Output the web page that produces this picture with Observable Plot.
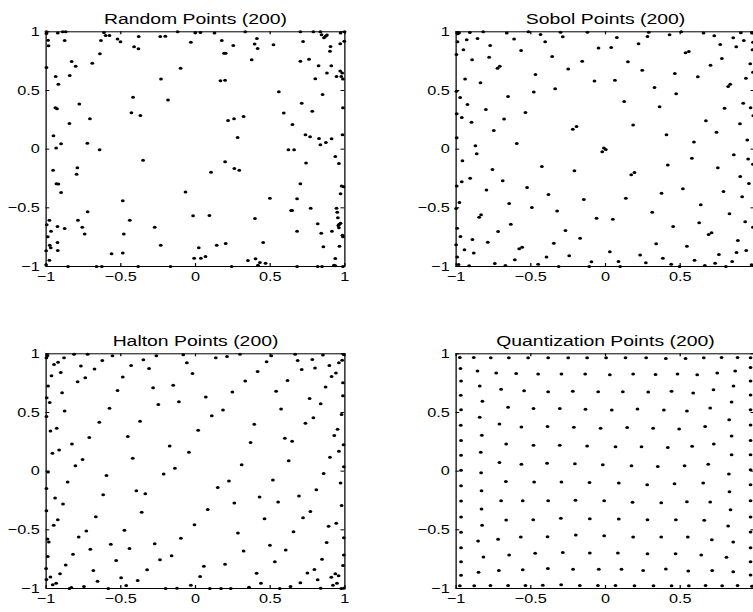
<!DOCTYPE html>
<html><head><meta charset="utf-8">
<script src="https://cdn.jsdelivr.net/npm/d3@7"></script>
<script src="https://cdn.jsdelivr.net/npm/@observablehq/plot@0.6"></script>
<style>
html,body{margin:0;padding:0;background:#fff;overflow:hidden;}
#chart{position:relative;width:603px;height:612px;transform:scaleX(1.25);transform-origin:0 0;}
#chart svg{position:absolute;}
</style></head><body><div id="chart"></div>
<script>
const titles = ["Random Points (200)", "Sobol Points (200)", "Halton Points (200)", "Quantization Points (200)"];
const tickValues = [-1, -0.5, 0, 0.5, 1];
const tickLabels = ["−1", "−0.5", "0", "0.5", "1"];

const randomPoints = [
[-0.998,1.0],[-0.998,0.986],[-0.987,0.929],[-0.984,0.881],[-0.998,0.696],
[-0.922,0.989],[-0.936,0.619],[-0.918,0.554],[-0.938,0.352],[-0.927,0.344],[-0.951,0.114],[-0.933,0.009],[-0.9,0.045],
[-0.889,1.0],[-0.869,1.0],[-0.876,0.926],
[-0.829,0.747],[-0.802,0.707],[-0.842,0.628],[-0.778,0.384],[-0.844,0.219],
[-0.691,0.733],[-0.64,0.813],[-0.633,0.926],[-0.707,0.259],[-0.724,0.051],[-0.642,-0.006],
[-0.613,0.994],[-0.602,0.969],[-0.576,0.969],[-0.522,0.938],[-0.502,0.915],
[-0.411,0.872],[-0.382,0.855],[-0.38,0.96],[-0.418,0.443],[-0.429,0.31],[-0.369,0.287],
[-0.236,0.96],[-0.202,0.963],[-0.231,0.597],[-0.184,0.418],
[-0.12,1.0],[-0.1,0.69],[-0.031,0.912],[-0.002,0.991],[0.033,0.994],
[0.127,0.989],[0.176,0.926],[0.191,0.818],[0.202,0.818],[0.253,0.884],[0.167,0.582],[0.198,0.588],[0.218,0.244],[0.258,0.259],[0.322,0.278],[0.282,0.099],
[0.333,1.0],[0.396,0.895],[0.411,0.943],[0.416,0.858],[0.376,0.761],[0.522,0.889],[0.558,0.489],[0.591,0.307],[0.649,0.21],[0.622,-0.006],[0.66,-0.006],
[0.702,1.0],[0.72,0.918],[0.702,0.75],[0.76,0.767],[0.711,0.392],[0.782,0.324],[0.736,0.122],[0.767,0.105],[0.827,0.091],[0.836,0.037],[0.873,0.057],[0.911,0.088],
[0.789,1.0],[0.836,1.0],[0.844,0.974],[0.86,0.949],[0.871,0.963],[0.88,0.972],[0.904,0.875],[0.9,0.835],[0.824,0.71],[0.909,0.71],[0.88,0.648],[0.802,0.599],[0.851,0.466],
[0.971,0.989],[0.998,1.0],[0.969,0.898],[0.996,0.92],[0.944,0.619],[0.969,0.665],[0.982,0.648],[0.976,0.619],[0.987,0.597],[0.987,0.352],[0.984,0.122],
[-0.953,-0.179],[-0.931,-0.295],[-0.918,-0.298],[-0.9,-0.369],[-0.996,-0.645],[-0.978,-0.605],[-0.967,-0.699],[-0.989,-0.747],[-0.924,-0.659],[-0.876,-0.676],[-0.976,-0.818],[-0.969,-0.841],[-0.924,-0.795],[-0.922,-0.864],[-1.0,-0.866],[-0.978,-0.946],[-1.0,-0.986],
[-0.791,-0.159],[-0.796,-0.213],[-0.787,-0.605],[-0.758,-0.665],[-0.742,-0.722],[-0.722,-0.534],[-0.853,-1.0],
[-0.662,-1.0],[-0.627,-1.0],[-0.562,-0.892],[-0.487,-0.44],[-0.48,-0.724],[-0.487,-0.886],[-0.44,-0.605],[-0.384,-1.0],
[-0.351,-0.094],[-0.273,-0.665],[-0.233,-0.818],[-0.167,-1.0],
[-0.067,-0.366],[-0.016,-0.568],[-0.009,-0.929],[0.022,-0.841],[0.036,-0.929],[0.067,-0.915],[0.093,-0.565],[0.104,-0.196],[0.142,-0.818],[0.198,-0.108],[0.202,-0.804],[0.26,-0.165],[0.293,-0.179],[0.242,-1.0],
[0.351,-0.949],[0.398,-0.591],[0.402,-0.935],[0.418,-0.989],[0.431,-0.966],[0.453,-0.795],[0.469,-0.972],[0.498,-0.418],
[0.64,-0.523],[0.647,-0.523],[0.68,-0.423],[0.68,-0.699],[0.702,-0.295],[0.68,-1.0],[0.74,-0.119],[0.771,-0.503],[0.818,-0.636],[0.842,-0.716],[0.856,-0.832],[0.818,-1.0],[0.847,-1.0],
[0.913,-0.699],[0.936,-0.063],[0.96,-0.122],[0.971,-0.381],[0.978,-0.313],[0.991,-0.321],[0.944,-0.503],[0.949,-0.537],[0.953,-0.585],[0.956,-0.651],[0.96,-0.67],[0.962,-0.639],[0.971,-0.631],[0.984,-0.733],[0.987,-0.747],[0.964,-0.827],[0.936,-0.932],[0.927,-0.989],[0.936,-0.994],[0.987,-1.0]
];

const sobolPoints = [
[-0.989,0.983],[-0.98,0.991],[-0.908,0.994],[-0.819,1.0],[-0.661,0.989],[-0.516,1.0],[-0.435,0.977],[-0.301,0.997],[-0.121,0.997],[0.29,0.997],[0.429,0.974],[0.507,1.0],[0.656,0.989],[0.728,0.966],[0.906,0.991],[0.98,0.989],
[-0.991,0.915],[-0.929,0.932],[-0.857,0.943],[-0.772,0.884],[-0.612,0.938],[-0.404,0.915],[-0.286,0.957],[0.076,0.952],[0.221,0.898],[0.281,0.96],[0.855,0.949],[0.926,0.926],[0.987,0.912],
[-0.998,0.807],[-0.951,0.847],[-0.893,0.761],[-0.779,0.784],[-0.565,0.841],[-0.357,0.79],[-0.156,0.75],[-0.047,0.861],[0.038,0.866],[0.15,0.744],[0.536,0.821],[0.558,0.832],[0.768,0.892],[0.875,0.872],[0.984,0.847],
[-0.723,0.69],[-0.708,0.707],[-0.469,0.636],[-0.25,0.682],[0.246,0.673],[0.464,0.645],[0.703,0.716],[0.779,0.773],[0.969,0.727],[0.987,0.656],
[-0.94,0.597],[-0.837,0.565],[-0.074,0.58],[0.063,0.588],[0.618,0.616],[0.94,0.605],[0.821,0.534],[0.835,0.554],[0.328,0.526],[-0.337,0.514],[-0.48,0.486],[-0.652,0.449],[-0.998,0.494],[-0.973,0.44],
[-0.924,0.381],[-0.801,0.338],[-0.536,0.313],[0.125,0.406],[0.362,0.361],[0.473,0.472],[0.797,0.349],[0.922,0.392],[0.971,0.352],
[-0.996,0.301],[-0.962,0.27],[-0.897,0.23],[-0.679,0.256],[-0.748,0.159],[-0.219,0.17],[-0.194,0.193],[0.185,0.205],[0.672,0.241],[0.743,0.145],[0.9,0.216],[0.989,0.284],
[-0.996,0.097],[0.408,0.122],[0.592,0.06],[0.949,0.077],[-0.871,0.028],[-0.594,0.048],[-0.011,0.009],[0.002,-0.003],
[-0.862,-0.04],[-0.022,-0.023],[-0.958,-0.099],[0.859,-0.048],[0.955,-0.085],[0.987,-0.128],[0.578,-0.077],[0.417,-0.136],[-0.426,-0.148],[-0.757,-0.173],[-0.208,-0.185],[0.172,-0.219],[0.194,-0.199],[-0.906,-0.247],[-0.962,-0.278],[-0.688,-0.27],[0.902,-0.233],[0.96,-0.293],[0.752,-0.159],[-0.996,-0.315],[-0.797,-0.349],[-0.525,-0.327],[-0.382,-0.386],[-0.145,-0.429],[0.136,-0.418],[0.375,-0.375],[0.518,-0.338],[0.79,-0.361],[0.915,-0.406],[-0.978,-0.455],[-1.0,-0.506],[-0.645,-0.463],[-0.493,-0.497],[-0.324,-0.528],[0.638,-0.474],[0.83,-0.551],[0.313,-0.537],[-0.06,-0.588],[0.049,-0.597],[-0.846,-0.58],[-0.833,-0.56],[-0.634,-0.639],[0.453,-0.659],[0.627,-0.628],[0.935,-0.619],[0.987,-0.665],[-0.993,-0.673],[-0.971,-0.744],[-0.719,-0.702],[-0.268,-0.693],[-0.17,-0.759],[0.69,-0.727],[0.71,-0.713],[0.886,-0.778],[-0.891,-0.77],[-0.788,-0.793],[-0.346,-0.801],[0.339,-0.807],[0.545,-0.827],[-1.0,-0.815],[-0.944,-0.858],[-0.578,-0.849],[-0.558,-0.835],[-0.882,-0.886],[0.029,-0.875],[0.232,-0.903],[0.759,-0.898],[0.877,-0.881],[0.942,-0.864],[-0.993,-0.918],[-0.395,-0.92],[-0.243,-0.909],[0.384,-0.929],[-0.607,-0.943],[-0.094,-0.96],[0.087,-0.957],[0.596,-0.946],[0.848,-0.957],[-0.984,-0.983],[-0.913,-0.994],[-0.741,-0.974],[-0.67,-0.991],[-0.451,-0.98],[-0.313,-1.0],[-0.109,-1.0],[0.098,-1.0],[0.27,-0.969],[0.44,-0.98],[0.496,-1.0],[0.665,-0.991],[0.734,-0.972],[0.806,-1.0],[0.978,-0.986]
];

const haltonPoints = [
[-0.998,0.966],[-0.991,0.986],[-0.947,0.909],[-0.92,0.929],[-0.88,0.966],[-0.813,0.997],[-0.722,0.997],[-0.556,0.983],[-0.262,0.983],[-0.082,0.992],[0.136,0.966],[0.211,0.977],[0.298,0.997],[0.507,0.983],[0.667,0.997],[0.853,0.989],[0.991,0.994],
[-0.964,0.813],[-0.902,0.841],[-0.987,0.725],[-0.893,0.669],[-0.996,0.626],[-0.976,0.584],[-0.876,0.513],[-0.998,0.465],[-0.971,0.343],[-0.929,0.365],[-0.958,0.153],[-0.913,0.181],[-0.827,0.232],[-0.804,0.045],[-0.756,0.099],[-0.789,0.762],[-0.738,0.796],[-0.767,0.895],[-0.676,0.87],[-0.624,0.943],[-0.711,0.286],[-0.644,0.416],[-0.576,0.535],[-0.522,0.688],[-0.487,0.802],[-0.431,0.901],[-0.349,0.949],[-0.311,0.875],[-0.284,0.711],[-0.249,0.569],[-0.371,0.425],[-0.453,0.295],[-0.42,0.11],[-0.173,0.215],[-0.138,0.025],[-0.149,0.731],[-0.111,0.592],[-0.058,0.924],[-0.02,0.833],[-0.044,0.161],[0.018,0.348],[0.069,0.632],[0.109,0.473],[0.184,0.521],[0.247,0.674],[0.333,0.768],[0.416,0.85],[0.476,0.932],[0.309,0.054],[0.369,0.244],[0.393,0.399],[0.54,0.68],[0.573,0.53],[0.616,0.773],[0.598,0.28],[0.647,0.255],[0.624,0.088],[0.684,0.943],[0.711,0.867],[0.764,0.62],[0.782,0.952],[0.8,0.878],[0.838,0.575],[0.789,0.456],[0.736,0.408],[0.871,0.717],[0.896,0.901],[0.911,0.807],[0.94,0.836],[0.96,0.924],[0.982,0.946],[0.987,0.754],[0.987,0.643],[0.978,0.482],[0.951,0.357],[0.929,0.303],[0.96,0.17],[0.991,0.224],[0.9,0.119],[0.993,0.037],
[-0.987,-0.008],[-0.856,-0.093],[-0.596,-0.037],[-0.213,-0.025],[0.858,-0.02],[0.971,-0.102],
[-0.998,-0.147],[-0.94,-0.229],[-0.887,-0.28],[-0.618,-0.201],[-0.396,-0.167],[-0.336,-0.193],[0.149,-0.139],[0.224,-0.085],[0.518,-0.076],[0.429,-0.221],[0.693,-0.212],[0.809,-0.159],
[-0.998,-0.337],[-0.36,-0.351],[0.082,-0.326],[0.26,-0.272],[0.553,-0.263],[0.769,-0.343],[0.978,-0.292],
[-0.922,-0.414],[-0.949,-0.462],[-0.667,-0.388],[-0.731,-0.51],[-0.782,-0.561],[-0.476,-0.504],[-0.007,-0.456],[0.462,-0.405],[0.72,-0.397],[0.656,-0.516],[0.891,-0.47],[0.942,-0.445],
[-0.991,-0.578],[-0.982,-0.603],[-0.567,-0.623],[-0.442,-0.66],[-0.273,-0.618],[-0.098,-0.572],[0.284,-0.527],[0.498,-0.632],[0.604,-0.671],[0.878,-0.609],[0.993,-0.567],
[-0.989,-0.728],[-0.82,-0.708],[-0.704,-0.666],[-0.16,-0.72],[-0.238,-0.756],[-0.531,-0.762],[0.198,-0.793],[0.322,-0.68],[0.531,-0.771],[0.847,-0.751],[0.993,-0.714],
[-1.0,-0.83],[-0.869,-0.799],[-0.684,-0.847],[-0.324,-0.841],[0.056,-0.81],[0.796,-0.839],[0.749,-0.867],[0.987,-0.805],
[-0.971,-0.901],[-0.907,-0.875],[-0.498,-0.909],[-0.656,-0.938],[-0.387,-0.932],[0.031,-0.898],[0.409,-0.87],[0.818,-0.926],[0.909,-0.904],[0.936,-0.875],[0.958,-0.892],
[-0.956,-0.969],[-0.933,-0.955],[-0.998,-0.924],
[-0.844,-1.0],[-0.831,-0.992],[-0.747,-0.983],[-0.584,-1.0],[-0.464,-0.975],[-0.2,-1.0],[-0.124,-0.997],[-0.031,-0.972],[0.096,-1.0],[0.171,-1.0],[0.236,-1.0],[0.358,-0.989],[0.438,-0.955],[0.564,-1.0],[0.636,-0.983],[0.702,-0.952],[0.838,-0.997],[0.92,-0.972],[0.947,-0.955],[0.976,-1.0],[0.993,-0.997]
];

const quantizationPoints = [
[-0.975,0.969],[-0.882,0.969],[-0.768,0.966],[-0.647,0.966],[-0.518,0.966],[-0.384,0.966],[-0.25,0.966],[-0.123,0.966],[0.004,0.966],[0.134,0.966],[0.272,0.966],[0.404,0.96],[0.536,0.96],[0.658,0.966],[0.777,0.969],[0.884,0.969],[0.971,0.966],
[-0.971,0.875],[-0.857,0.853],[-0.732,0.836],[-0.598,0.833],[-0.451,0.827],[-0.295,0.827],[-0.136,0.827],[0.029,0.822],[0.185,0.827],[0.335,0.824],[0.482,0.827],[0.614,0.822],[0.748,0.836],[0.868,0.853],[0.971,0.884],
[-0.967,0.768],[-0.842,0.725],[-0.699,0.697],[-0.545,0.686],[-0.384,0.677],[-0.219,0.68],[-0.049,0.677],[0.116,0.677],[0.286,0.674],[0.442,0.68],[0.587,0.666],[0.723,0.694],[0.857,0.725],[0.971,0.768],
[-0.969,0.646],[-0.824,0.595],[-0.652,0.544],[-0.482,0.533],[-0.306,0.533],[-0.134,0.527],[0.042,0.521],[0.214,0.53],[0.391,0.521],[0.545,0.513],[0.701,0.538],[0.844,0.589],[0.971,0.649],
[-0.967,0.524],[-0.842,0.459],[-0.71,0.402],[-0.563,0.377],[-0.388,0.38],[-0.212,0.374],[-0.033,0.365],[0.145,0.371],[0.319,0.365],[0.493,0.36],[0.667,0.38],[0.828,0.439],[0.971,0.524],
[-0.969,0.391],[-0.828,0.306],[-0.665,0.232],[-0.482,0.221],[-0.306,0.221],[-0.123,0.215],[0.067,0.207],[0.241,0.207],[0.417,0.201],[0.58,0.212],[0.725,0.232],[0.844,0.3],[0.971,0.394],
[-0.967,0.261],[-0.835,0.161],[-0.71,0.074],[-0.563,0.059],[-0.391,0.068],[-0.205,0.062],[-0.018,0.054],[0.174,0.045],[0.35,0.04],[0.529,0.045],[0.688,0.059],[0.844,0.139],[0.971,0.261],
[-0.967,0.136],[-0.967,0.008],[0.971,0.139],[0.971,0.011],
[-0.833,-0.014],[0.826,-0.025],
[-0.967,-0.125],[-0.667,-0.088],[-0.478,-0.093],[-0.295,-0.093],[-0.107,-0.096],[0.089,-0.102],[0.279,-0.116],[0.462,-0.108],[0.654,-0.102],[0.83,-0.176],
[-0.967,-0.255],[-0.83,-0.167],[-0.699,-0.252],[-0.554,-0.252],[-0.384,-0.252],[-0.201,-0.249],[-0.009,-0.252],[0.181,-0.266],[0.373,-0.269],[0.545,-0.261],[0.701,-0.263],[0.837,-0.329],
[-0.967,-0.391],[-0.83,-0.323],[-0.665,-0.416],[-0.484,-0.414],[-0.299,-0.402],[-0.105,-0.405],[0.089,-0.408],[0.281,-0.414],[0.471,-0.414],[0.661,-0.419],[0.821,-0.467],
[-0.967,-0.521],[-0.826,-0.462],[-0.853,-0.595],[-0.719,-0.581],[-0.567,-0.561],[-0.388,-0.558],[-0.199,-0.544],[-0.009,-0.55],[0.185,-0.561],[0.373,-0.561],[0.551,-0.561],[0.712,-0.584],[0.855,-0.603],
[-0.967,-0.652],[-0.817,-0.731],[-0.645,-0.714],[-0.471,-0.7],[-0.286,-0.694],[-0.105,-0.697],[0.083,-0.697],[0.281,-0.703],[0.469,-0.703],[0.641,-0.714],[0.81,-0.734],
[-0.967,-0.773],[-0.85,-0.861],[-0.714,-0.847],[-0.554,-0.841],[-0.386,-0.83],[-0.217,-0.836],[-0.045,-0.836],[0.107,-0.836],[0.252,-0.847],[0.404,-0.833],[0.554,-0.85],[0.714,-0.847],[0.855,-0.858],
[-0.967,-0.887],
[-0.975,-0.977],[-0.879,-0.977],[-0.77,-0.975],[-0.652,-0.975],[-0.536,-0.975],[-0.42,-0.972],[-0.297,-0.969],[-0.172,-0.975],[-0.051,-0.975],[0.067,-0.975],[0.194,-0.977],[0.321,-0.977],[0.442,-0.977],[0.558,-0.977],[0.67,-0.975],[0.781,-0.977],[0.884,-0.975],[0.98,-0.98],
[0.971,-0.116],[0.971,-0.252],[0.971,-0.391],[0.971,-0.518],[0.971,-0.652],[0.971,-0.773],[0.971,-0.884]
];

// right-hand panels run off the page edge, so their last x label is not shown
const panels = [
  {title: titles[0], points: randomPoints, left: 0, top: 0, xLabelTicks: tickValues},
  {title: titles[1], points: sobolPoints, left: 327.8, top: 0, xLabelTicks: tickValues.slice(0, 4)},
  {title: titles[2], points: haltonPoints, left: 0, top: 322, xLabelTicks: tickValues},
  {title: titles[3], points: quantizationPoints, left: 327.8, top: 322, xLabelTicks: tickValues.slice(0, 4)}
];

const W = 300, H = 290, mL = 36.4, mR = 24.6, mT = 31.3, mB = 24;
const fw = W - mL - mR, fh = H - mT - mB, tl = 3;
const font = "'Liberation Sans', Arial, Helvetica, sans-serif";
const fmt = d => tickLabels[tickValues.indexOf(d)];
const chart = document.getElementById("chart");

for (const p of panels) {
  const svg = Plot.plot({
    width: W, height: H,
    marginLeft: mL, marginRight: mR, marginTop: mT, marginBottom: mB,
    x: {domain: [-1, 1], axis: null},
    y: {domain: [-1, 1], axis: null},
    style: {fontFamily: font, fontSize: "13px", color: "#000", background: "transparent", overflow: "visible"},
    marks: [
      Plot.ruleX(tickValues, {x: d => d, insetTop: fh - tl, stroke: "#000"}),
      Plot.ruleX(tickValues, {x: d => d, insetBottom: fh - tl, stroke: "#000"}),
      Plot.ruleY(tickValues, {y: d => d, insetRight: fw - tl, stroke: "#000"}),
      Plot.ruleY(tickValues, {y: d => d, insetLeft: fw - tl, stroke: "#000"}),
      Plot.frame({stroke: "#000", strokeWidth: 1}),
      Plot.axisX(p.xLabelTicks, {anchor: "bottom", tickSize: 0, tickPadding: 5, tickFormat: fmt, fontSize: 13, fill: "#000"}),
      Plot.axisY(tickValues, {anchor: "left", tickSize: 0, tickPadding: 5, tickFormat: fmt, fontSize: 13, fill: "#000"}),
      Plot.dot(p.points, {x: d => d[0], y: d => d[1], r: 1.5, fill: "#000"}),
      Plot.text([p.title], {text: d => d, frameAnchor: "top", dy: -19, fontSize: 15.5, fill: "#000"})
    ]
  });
  svg.style.left = p.left + "px";
  svg.style.top = p.top + "px";
  chart.appendChild(svg);
}
</script>
</body></html>
